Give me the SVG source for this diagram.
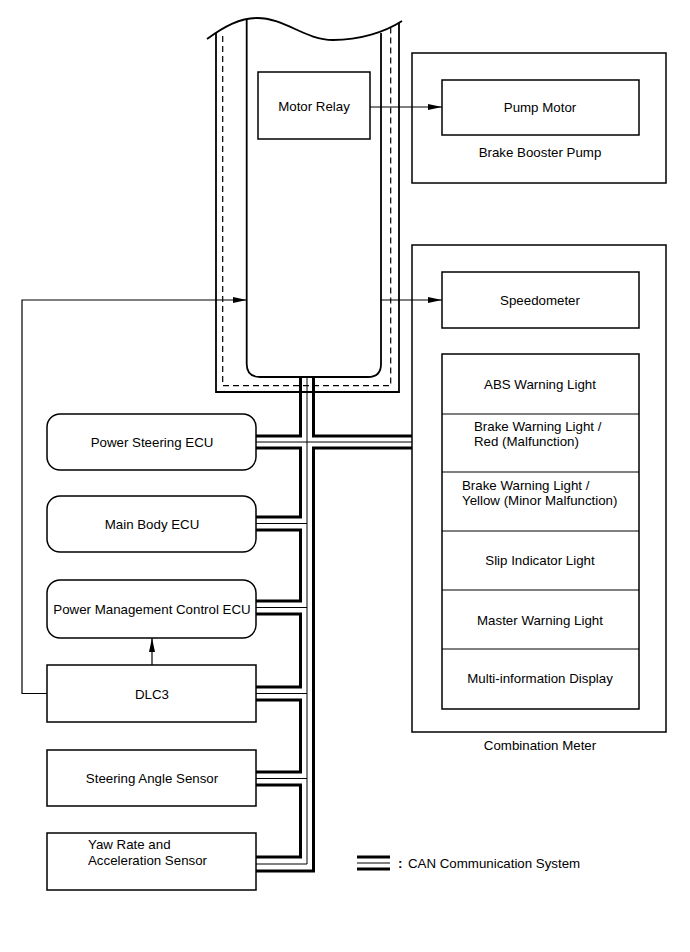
<svg xmlns="http://www.w3.org/2000/svg" width="690" height="952" viewBox="0 0 690 952">
<style>
text{font-family:"Liberation Sans",Arial,sans-serif;font-size:13.3px;fill:#000}
.c{text-anchor:middle}
.box{fill:#fff;stroke:#000;stroke-width:1.5}
.ln{fill:none;stroke:#000;stroke-width:1.2}
.thick{fill:none;stroke:#000;stroke-width:3}
.thin{fill:none;stroke:#000;stroke-width:1}
</style>
<defs>
<marker id="ah" markerUnits="userSpaceOnUse" markerWidth="14" markerHeight="6" refX="14" refY="3" orient="auto">
<path d="M0,0 L14,3 L0,6 z" fill="#000"/>
</marker>
</defs>
<rect width="690" height="952" fill="#fff"/>

<g id="skid-ecu">
<path d="M207,39 C225,26 240,18 257,18 C285,18 305,40 333,40 C360,40 385,32 402,21" fill="none" stroke="#000" stroke-width="1.8"/>
<path d="M216,33 V392 H399 V23" fill="none" stroke="#000" stroke-width="1.8"/>
<path d="M222.7,36 V385.7 H390.7 V25" fill="none" stroke="#000" stroke-width="1.2" stroke-dasharray="6,4"/>
<path d="M246.7,20 V364 Q246.7,377 260,377 H368 Q381,377 381,364 V33" fill="none" stroke="#000" stroke-width="1.8"/>
</g>

<g id="motor-relay">
<rect class="box" x="258" y="72" width="112" height="67"/>
<text class="c" x="314" y="111">Motor Relay</text>
</g>

<g id="brake-booster-pump">
<rect class="box" x="412" y="53" width="254" height="130"/>
<rect class="box" x="442" y="80" width="197" height="55"/>
<text class="c" x="540" y="112">Pump Motor</text>
<text class="c" x="540" y="157">Brake Booster Pump</text>
</g>

<g id="combination-meter">
<rect class="box" x="412" y="245" width="254" height="487"/>
<text class="c" x="540" y="750">Combination Meter</text>
<rect class="box" x="442" y="272" width="197" height="56"/>
<text class="c" x="540" y="305">Speedometer</text>
<rect class="box" x="442" y="354" width="197" height="355"/>
<path class="ln" d="M442,414 H639 M442,472 H639 M442,531 H639 M442,590 H639 M442,649 H639"/>
<text class="c" x="540" y="389">ABS Warning Light</text>
<text x="474" y="431">Brake Warning Light /</text>
<text x="474" y="446">Red (Malfunction)</text>
<text x="462" y="490">Brake Warning Light /</text>
<text x="462" y="505">Yellow (Minor Malfunction)</text>
<text class="c" x="540" y="565">Slip Indicator Light</text>
<text class="c" x="540" y="625">Master Warning Light</text>
<text class="c" x="540" y="683">Multi-information Display</text>
</g>

<g id="power-steering-ecu">
<rect class="box" x="47" y="414" width="209" height="56" rx="13"/>
<text class="c" x="152" y="447">Power Steering ECU</text>
</g>
<g id="main-body-ecu">
<rect class="box" x="47" y="496" width="209" height="56" rx="13"/>
<text class="c" x="152" y="529">Main Body ECU</text>
</g>
<g id="power-management-ecu">
<rect class="box" x="47" y="580" width="209" height="58" rx="13"/>
<text class="c" x="152" y="614">Power Management Control ECU</text>
</g>
<g id="dlc3">
<rect class="box" x="47" y="665" width="209" height="57"/>
<text class="c" x="152" y="699">DLC3</text>
</g>
<g id="steering-angle-sensor">
<rect class="box" x="47" y="750" width="209" height="56"/>
<text class="c" x="152" y="783">Steering Angle Sensor</text>
</g>
<g id="yaw-rate-sensor">
<rect class="box" x="47" y="833" width="209" height="57"/>
<text x="88" y="849">Yaw Rate and</text>
<text x="88" y="865">Acceleration Sensor</text>
</g>

<g id="connectors">
<path class="ln" d="M370,107 H442" marker-end="url(#ah)"/>
<path class="ln" d="M381,300 H442" marker-end="url(#ah)"/>
<path class="ln" d="M47,693.5 H22 V300 H246.7" marker-end="url(#ah)"/>
<path class="ln" d="M152,665 V638" marker-end="url(#ah)"/>
<g id="can-bus">
<path class="thick" d="M300.5,377 V436 H256 M256,448 H300.5 V517 H256 M256,530 H300.5 V601 H256 M256,614 H300.5 V687 H256 M256,700 H300.5 V772 H256 M256,785 H300.5 V857 H256"/>
<path class="thin" d="M307,377 V864 H256 M256,442 H412 M256,523.5 H307 M256,607.5 H307 M256,693.5 H307 M256,778.5 H307"/>
<path class="thick" d="M313.5,377 V436 H412 M412,448 H313.5 V871 H256"/>
</g>
</g>

<g id="legend">
<path class="thick" d="M357,857 H390 M357,869 H390"/>
<path class="thin" d="M357,863 H390"/>
<text x="398" y="868" font-weight="bold">:</text>
<text x="408" y="868">CAN Communication System</text>
</g>
</svg>
